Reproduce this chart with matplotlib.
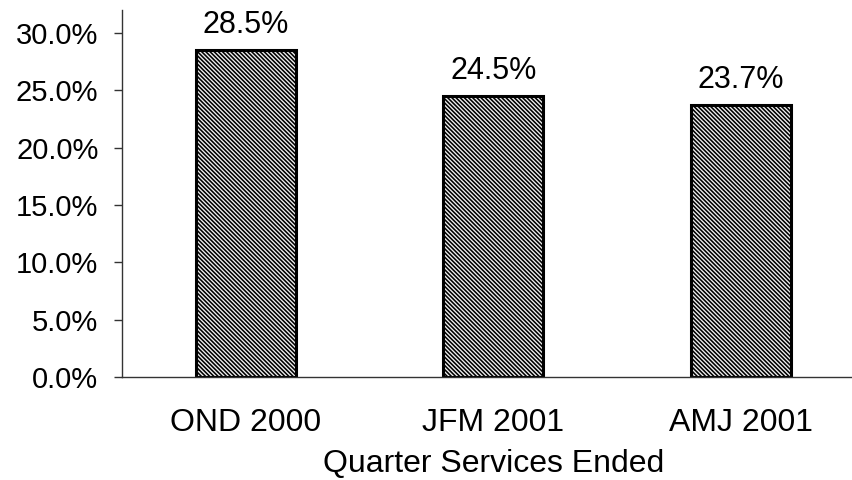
import matplotlib
matplotlib.use("Agg")
import matplotlib.pyplot as plt
from matplotlib.ticker import PercentFormatter, MultipleLocator

categories = ["OND 2000", "JFM 2001", "AMJ 2001"]
values = [0.285, 0.245, 0.237]
value_labels = ["28.5%", "24.5%", "23.7%"]
x_title = "Quarter Services Ended"

plt.rcParams['font.family'] = ['Liberation Sans', 'DejaVu Sans']
plt.rcParams['hatch.linewidth'] = 1.15
plt.rcParams['hatch.color'] = 'black'

fig = plt.figure(figsize=(8.52, 4.8), dpi=100)
ax = fig.add_axes([122/852, 1-377/480, (864.5-122)/852, (377-10)/480])

xs = list(range(len(categories)))
bars = ax.bar(xs, values, width=0.405, facecolor='#f0f0f0', edgecolor='black',
              linewidth=2.2, hatch='\\' * 8)

for b, lab in zip(bars, value_labels):
    ax.annotate(lab, (b.get_x() + b.get_width()/2, b.get_height()),
                xytext=(0, 7), textcoords='offset points',
                ha='center', va='bottom', fontsize=22)

ax.set_xlim(-0.5, 2.5)
ax.set_ylim(0, 0.32)
ax.yaxis.set_major_locator(MultipleLocator(0.05))
ax.yaxis.set_major_formatter(PercentFormatter(1.0, decimals=1))
ax.set_xticks(xs)
ax.set_xticklabels(categories, fontsize=23)
ax.tick_params(axis='x', length=0, pad=22)
ax.tick_params(axis='y', labelsize=21, length=6, width=1, color='#333333', pad=11)
for s in ['top', 'right']:
    ax.spines[s].set_visible(False)
for s in ['left', 'bottom']:
    ax.spines[s].set_color('#333333')
    ax.spines[s].set_linewidth(1)
ax.set_xlabel(x_title, fontsize=23, labelpad=8)

fig.savefig("out.png", dpi=100)
